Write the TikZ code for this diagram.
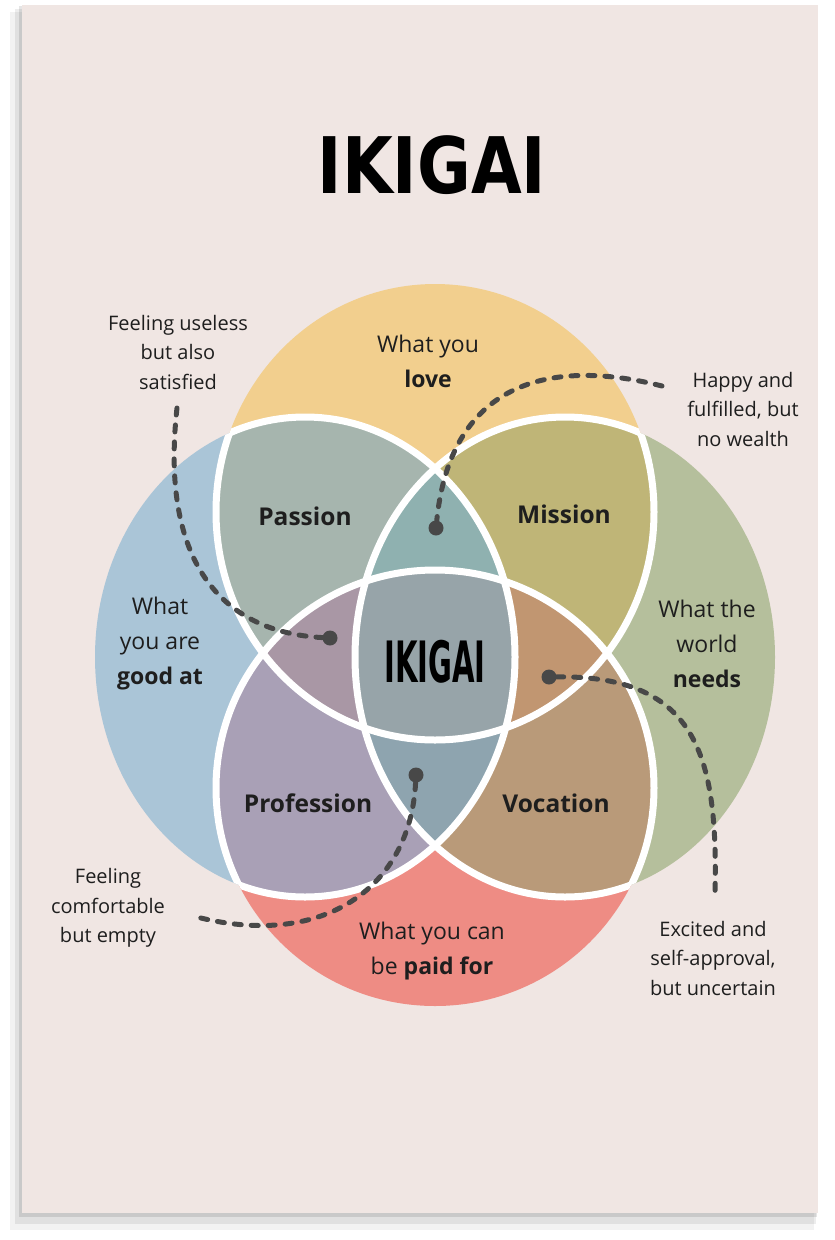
\documentclass[tikz,border=0pt]{standalone}
\usepackage{graphicx}
\usepackage{fontspec}
\setmainfont{Open Sans}
\newfontfamily\titlefont{DejaVu Sans}

\definecolor{paper}{RGB}{240,230,227}
\definecolor{cLove}{RGB}{242,207,142}
\definecolor{cGood}{RGB}{170,197,215}
\definecolor{cNeeds}{RGB}{181,191,156}
\definecolor{cPaid}{RGB}{238,140,132}
\definecolor{cPassion}{RGB}{166,181,174}
\definecolor{cMission}{RGB}{191,181,119}
\definecolor{cVocation}{RGB}{185,154,121}
\definecolor{cProfession}{RGB}{169,160,182}
\definecolor{cTopLens}{RGB}{143,177,176}
\definecolor{cRightLens}{RGB}{193,150,113}
\definecolor{cBottomLens}{RGB}{142,164,175}
\definecolor{cLeftLens}{RGB}{169,151,165}
\definecolor{cCenter}{RGB}{151,164,169}
\definecolor{ink}{RGB}{30,30,30}
\definecolor{dashc}{RGB}{72,72,72}

% los cuatro circulos
\def\circT{(435,512) ellipse (219 and 228)}
\def\circB{(435,788) ellipse (219 and 218)}
\def\circL{(305,657) ellipse (210 and 240)}
\def\circR{(565,657) ellipse (210 and 240)}

\begin{document}
\begin{tikzpicture}[x=1pt, y=-1pt,
    wline/.style={draw=white, line width=7pt},
    dashline/.style={draw=dashc, line width=5pt, line cap=round, dash pattern=on 7pt off 10pt},
    dot/.style={circle, fill=dashc, inner sep=0pt, minimum size=15pt},
    anno/.style={font=\fontsize{20}{29.5}\selectfont, text=ink, align=center},
    circtext/.style={font=\fontsize{23}{35}\selectfont, text=ink, align=center},
    regtext/.style={font=\fontsize{24.5}{30}\selectfont\bfseries, text=ink}]

    \useasboundingbox (0,0) rectangle (835,1240);
    \fill[white] (0,0) rectangle (835,1240);

    % sombra y poster
    \fill[black, opacity=0.05] (10,12) rectangle (814,1230);
    \fill[black, opacity=0.07] (15,9) rectangle (816,1224);
    \fill[black, opacity=0.10] (19,6) rectangle (817,1217);
    \fill[paper] (22,5) rectangle (818,1213);

    % circulos grandes
    \fill[cLove] \circT;
    \fill[cGood] \circL;
    \fill[cNeeds] \circR;
    \fill[cPaid] \circB;

    % intersecciones de dos
    \begin{scope} \clip \circT; \fill[cPassion] \circL; \end{scope}
    \begin{scope} \clip \circT; \fill[cMission] \circR; \end{scope}
    \begin{scope} \clip \circB; \fill[cVocation] \circR; \end{scope}
    \begin{scope} \clip \circB; \fill[cProfession] \circL; \end{scope}

    % intersecciones de tres
    \begin{scope} \clip \circT; \clip \circL; \fill[cTopLens] \circR; \end{scope}
    \begin{scope} \clip \circT; \clip \circR; \fill[cRightLens] \circB; \end{scope}
    \begin{scope} \clip \circL; \clip \circR; \fill[cBottomLens] \circB; \end{scope}
    \begin{scope} \clip \circT; \clip \circL; \fill[cLeftLens] \circB; \end{scope}

    % centro
    \begin{scope} \clip \circT; \clip \circL; \clip \circR; \fill[cCenter] \circB; \end{scope}

    % bordes blancos
    \begin{scope} \clip \circL \circR \circB; \draw[wline] \circT; \end{scope}
    \begin{scope} \clip \circT \circR \circB; \draw[wline] \circL; \end{scope}
    \begin{scope} \clip \circT \circL \circB; \draw[wline] \circR; \end{scope}
    \begin{scope} \clip \circT \circL \circR; \draw[wline] \circB; \end{scope}

    % titulo
    \node (title) at (432,165) {\titlefont\bfseries\fontsize{78}{78}\selectfont\scalebox{0.84}[1]{IKIGAI}};

    % textos de los circulos
    \node[circtext] (love) at (428,361) {What you\\\textbf{love}};
    \node[circtext] (good) at (160,644) {What\\you are\\\textbf{good at}};
    \node[circtext] (needs) at (707,644) {What the\\world\\\textbf{needs}};
    \node[circtext] (paid) at (432,951) {What you can\\be \textbf{paid for}};

    % regiones
    \node[regtext] (passion) at (305,516) {Passion};
    \node[regtext] (mission) at (564,514) {Mission};
    \node[regtext] (profession) at (308,803) {Profession};
    \node[regtext] (vocation) at (556,803) {Vocation};
    \node (ikigai) at (435,662) {\titlefont\bfseries\fontsize{57}{57}\selectfont\scalebox{0.51}[1]{IKIGAI}};

    % notas
    \node[anno] (useless) at (178,352) {Feeling useless\\but also\\satisfied};
    \node[anno] (happy) at (743,409) {Happy and\\fulfilled, but\\no wealth};
    \node[anno] (comfortable) at (108,908) {Feeling\\comfortable\\but empty};
    \node[anno] (excited) at (713,958) {Excited and\\self-approval,\\but uncertain};

    % puntos
    \node[dot] (dUseless) at (330,638) {};
    \node[dot] (dHappy) at (436,528) {};
    \node[dot] (dExcited) at (549,677) {};
    \node[dot] (dComfortable) at (416,775) {};

    \coordinate (eUseless) at (177,408);
    \coordinate (eHappy) at (662,386);
    \coordinate (eExcited) at (715,895);
    \coordinate (eComfortable) at (193,916);

    % lineas punteadas
    \draw[dashline] (eUseless) .. controls (160,560) and (220,632) .. (dUseless);
    \draw[dashline] (eHappy) .. controls (540,355) and (450,390) .. (dHappy);
    \draw[dashline] (dExcited) .. controls (700,675) and (718,760) .. (eExcited);
    \draw[dashline] (dComfortable) .. controls (410,890) and (320,950) .. (eComfortable);

\end{tikzpicture}
\end{document}
